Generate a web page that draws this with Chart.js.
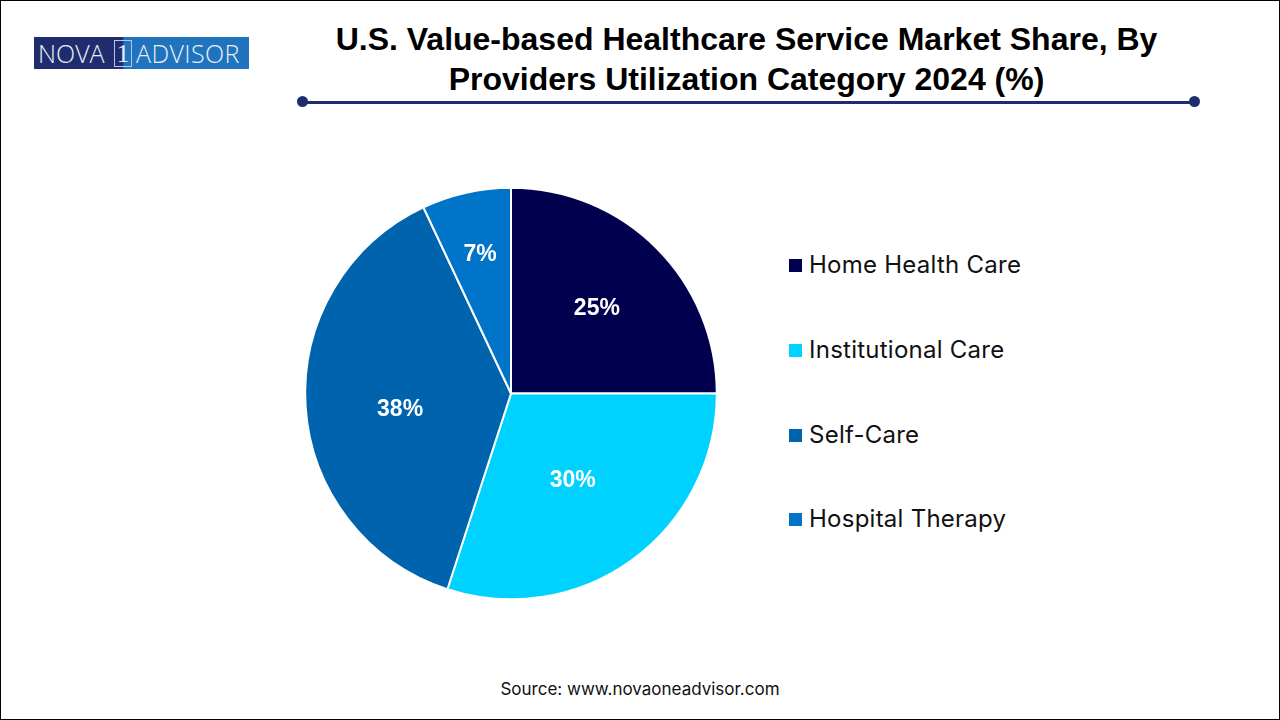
<!DOCTYPE html>
<html>
<head>
<meta charset="utf-8">
<title>U.S. Value-based Healthcare Service Market Share</title>
<script src="https://cdn.jsdelivr.net/npm/chart.js@4"></script>
<style>
    html, body { margin: 0; padding: 0; background: #fff; }
    #page { position: relative; width: 1280px; height: 720px; overflow: hidden; background: #fff; box-sizing: border-box; border: 1px solid #000; }
    #page > * { position: absolute; }
    #logo { left: 33px; top: 36px; width: 215px; height: 32px; background: linear-gradient(90deg, #1f2d6e 0, #1f2d6e 41%, #1f74bd 42%, #1f74bd 100%); color: #e8eef8; font: 300 25px "Open Sans", sans-serif; line-height: 32px; white-space: nowrap; }
    #logo span { position: absolute; top: 0; }
    #logo .one { border: 1px solid #b9c6e2; line-height: 25px; top: 3px; height: 25px; width: 16px; text-align: center; font-family: "Liberation Serif", serif; }
    #title { left: 0; top: 17.5px; width: 1491px; text-align: center; font: bold 32px/40px "Liberation Sans", sans-serif; color: #000; }
    #rule { left: 300px; top: 100px; width: 894px; height: 3px; background: #1f2d6e; }
    .dot { top: 95px; width: 11px; height: 11px; border-radius: 50%; background: #1f2d6e; }
    #pie { left: 290px; top: 171px; }
    .legend-box { left: 788px; width: 13px; height: 13px; }
    .legend-text { left: 808px; font: 24px/30px Inter, sans-serif; letter-spacing: 0.25px; color: #111; white-space: nowrap; }
    #source { left: 0; top: 678px; width: 1278px; text-align: center; font: 17px/20px Inter, sans-serif; color: #111; }
</style>
</head>
<body>
<div id="page">
    <div id="logo">
        <span style="left:4px">NOVA</span>
        <span class="one" style="left:80px">1</span>
        <span style="left:102px;letter-spacing:0.4px">ADVISOR</span>
    </div>
    <div id="title">U.S. Value-based Healthcare Service Market Share, By<br>Providers Utilization Category 2024 (%)</div>
    <div id="rule"></div>
    <div class="dot" style="left:296px"></div>
    <div class="dot" style="left:1188px"></div>
    <canvas id="pie" width="440" height="443"></canvas>
    <div id="source">Source: www.novaoneadvisor.com</div>
</div>
<script>
const categories = ['Home Health Care', 'Institutional Care', 'Self-Care', 'Hospital Therapy'];
const shareValues = [25, 30, 38, 7];
const sliceColors = ['#00004f', '#00d2ff', '#0063ae', '#0074c8'];

// how far out each percent label sits, as a fraction of the radius
const labelDistance = [0.59, 0.51, 0.54, 0.69];
// the 38% label sits a bit lower than its mid angle in the original
const labelDrop = [1, 2, 9, 0];
// legend row centres in page pixels
const legendRows = [265, 350, 435, 519];

// No datalabels plugin available, so draw the percents here
const percentLabels = {
    id: 'percentLabels',
    afterDatasetsDraw(chart) {
        const ctx = chart.ctx;
        const arcs = chart.getDatasetMeta(0).data;
        ctx.save();
        ctx.font = 'bold 23px "Liberation Sans", sans-serif';
        ctx.fillStyle = '#fff';
        ctx.textAlign = 'center';
        ctx.textBaseline = 'middle';
        arcs.forEach((arc, i) => {
            const mid = (arc.startAngle + arc.endAngle) / 2;
            const r = arc.outerRadius * labelDistance[i];
            ctx.fillText(shareValues[i] + '%', arc.x + Math.cos(mid) * r, arc.y + Math.sin(mid) * r + labelDrop[i]);
        });
        ctx.restore();
    }
};

new Chart(document.getElementById('pie'), {
    type: 'pie',
    data: {
        labels: categories,
        datasets: [{
            data: shareValues,
            backgroundColor: sliceColors,
            borderColor: '#fff',
            borderWidth: 2
        }]
    },
    options: {
        responsive: false,
        animation: false,
        radius: 205.8,
        plugins: {
            legend: { display: false },
            tooltip: { enabled: false }
        }
    },
    plugins: [percentLabels]
});

// Legend sits outside the canvas
const page = document.getElementById('page');
categories.forEach((name, i) => {
    const box = document.createElement('div');
    box.className = 'legend-box';
    box.style.top = (legendRows[i] - 7) + 'px';
    box.style.background = sliceColors[i];
    page.appendChild(box);

    const text = document.createElement('div');
    text.className = 'legend-text';
    text.style.top = (legendRows[i] - 16) + 'px';
    text.textContent = name;
    page.appendChild(text);
});
</script>
</body>
</html>
